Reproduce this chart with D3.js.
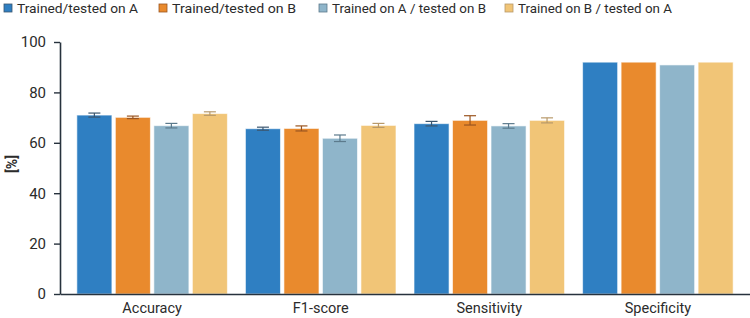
<!DOCTYPE html>
<html>
<head>
<meta charset="utf-8">
<script src="https://cdn.jsdelivr.net/npm/d3@7"></script>
<style>
  html, body { margin: 0; padding: 0; background: #fff; }
  #chart { width: 750px; height: 318px; }
  text { font-family: Roboto, "Noto Sans", sans-serif; fill: #2b2b2b; }
</style>
</head>
<body>
<div id="chart"></div>
<script>
(function () {

    var CATEGORIES = ["Accuracy", "F1-score", "Sensitivity", "Specificity"];
    var SERIES     = ["Trained/tested on A", "Trained/tested on B",
                      "Trained on A / tested on B", "Trained on B / tested on A"];

    // mean values per series, in category order
    var VAL_A_A = [71.0, 65.6, 67.6, 92.0];
    var VAL_B_B = [70.1, 65.7, 68.9, 92.0];
    var VAL_A_B = [66.8, 61.8, 66.7, 90.9];
    var VAL_B_A = [71.6, 66.9, 68.9, 92.0];

    // error bar half-widths
    var ERR_A_A = [0.8, 0.6, 0.9, 0];
    var ERR_B_B = [0.5, 1.0, 1.85, 0];
    var ERR_A_B = [0.9, 1.3, 0.9, 0];
    var ERR_B_A = [0.7, 0.8, 1.0, 0];

    var Y_TICKS = [0, 20, 40, 60, 80, 100];

    var COLORS     = ["#2f7fc2", "#e98a2d", "#8fb5ca", "#f1c577"];
    var ERR_COLORS = ["#3b566f", "#9b5520", "#5c7a8c", "#b8996a"];

    var values = [VAL_A_A, VAL_B_B, VAL_A_B, VAL_B_A];
    var errors = [ERR_A_A, ERR_B_B, ERR_A_B, ERR_B_A];

    var W = 750, H = 318;
    var margin = { top: 42, right: 0, bottom: 24, left: 60 };
    var iW = W - margin.left - margin.right;
    var iH = H - margin.top - margin.bottom;

    var svg = d3.select("#chart").append("svg")
        .attr("width", W).attr("height", H);

    var g = svg.append("g")
        .attr("transform", "translate(" + margin.left + "," + margin.top + ")");

    /* scales */
    var x0 = d3.scaleBand()
        .domain(CATEGORIES)
        .range([0, iW])
        .paddingInner(0.107)
        .paddingOuter(0.1)
        .align(0.5);

    var x1 = d3.scaleBand()
        .domain(d3.range(SERIES.length))
        .range([0, x0.bandwidth()])
        .paddingInner(0.09);

    var y = d3.scaleLinear().domain([0, 100]).range([iH, 0]);

    /* bars */
    CATEGORIES.forEach(function (cat, ci) {
        var grp = g.append("g").attr("transform", "translate(" + x0(cat) + ",0)");
        SERIES.forEach(function (s, si) {
            var v = values[si][ci];
            var e = errors[si][ci];
            grp.append("rect")
                .attr("x", x1(si))
                .attr("y", y(v))
                .attr("width", x1.bandwidth())
                .attr("height", y(0) - y(v))
                .attr("fill", COLORS[si])
                .attr("stroke", "#ffffff")
                .attr("stroke-opacity", 0.6)
                .attr("stroke-width", 1);

            if (e > 0) {
                var cx = x1(si) + x1.bandwidth() / 2;
                var eg = grp.append("g")
                    .attr("stroke", ERR_COLORS[si])
                    .attr("stroke-width", 1.2);
                eg.append("line")
                    .attr("x1", cx).attr("x2", cx)
                    .attr("y1", y(v + e)).attr("y2", y(v - e));
                eg.append("line")
                    .attr("x1", cx - 6).attr("x2", cx + 6)
                    .attr("y1", y(v + e)).attr("y2", y(v + e));
                eg.append("line")
                    .attr("x1", cx - 6).attr("x2", cx + 6)
                    .attr("y1", y(v - e)).attr("y2", y(v - e));
            }
        });
    });

    /* axes */
    var yAxis = g.append("g")
        .call(d3.axisLeft(y).tickValues(Y_TICKS).tickSize(6).tickSizeOuter(0).tickPadding(8));
    yAxis.select(".domain").attr("stroke", "#27323d").attr("stroke-width", 1.6);
    yAxis.selectAll(".tick line").attr("stroke", "#27323d").attr("stroke-width", 1.4);
    yAxis.selectAll(".tick text")
        .style("font-family", "Roboto, sans-serif")
        .style("font-size", "15px")
        .attr("fill", "#2b2b2b");

    var xAxis = g.append("g")
        .attr("transform", "translate(0," + iH + ")")
        .call(d3.axisBottom(x0).tickSize(0).tickSizeOuter(0).tickPadding(9));
    xAxis.select(".domain").attr("stroke", "#27323d").attr("stroke-width", 1.6);
    xAxis.selectAll(".tick text")
        .style("font-family", "Roboto, sans-serif")
        .style("font-size", "14.5px")
        .attr("fill", "#2b2b2b");

    // axis label
    g.append("text")
        .attr("transform", "rotate(-90)")
        .attr("x", -iH / 2 + 4)
        .attr("y", -43)
        .attr("text-anchor", "middle")
        .style("font-size", "14px")
        .style("font-weight", "bold")
        .text("[%]");

    /* legend */
    var LEGEND_X = [4, 159, 319, 505];
    var LEGEND_W = [121, 124, 154, 154];
    var legend = svg.append("g").attr("transform", "translate(0,4)");
    SERIES.forEach(function (s, i) {
        var lg = legend.append("g").attr("transform", "translate(" + LEGEND_X[i] + ",0)");
        lg.append("rect")
            .attr("width", 8).attr("height", 8)
            .attr("fill", COLORS[i])
            .attr("stroke", ERR_COLORS[i])
            .attr("stroke-width", 0.8);
        lg.append("text")
            .attr("x", 13).attr("y", 9)
            .attr("textLength", LEGEND_W[i])
            .attr("lengthAdjust", "spacingAndGlyphs")
            .style("font-size", "13.5px")
            .text(s);
    });

}());
</script>
</body>
</html>
